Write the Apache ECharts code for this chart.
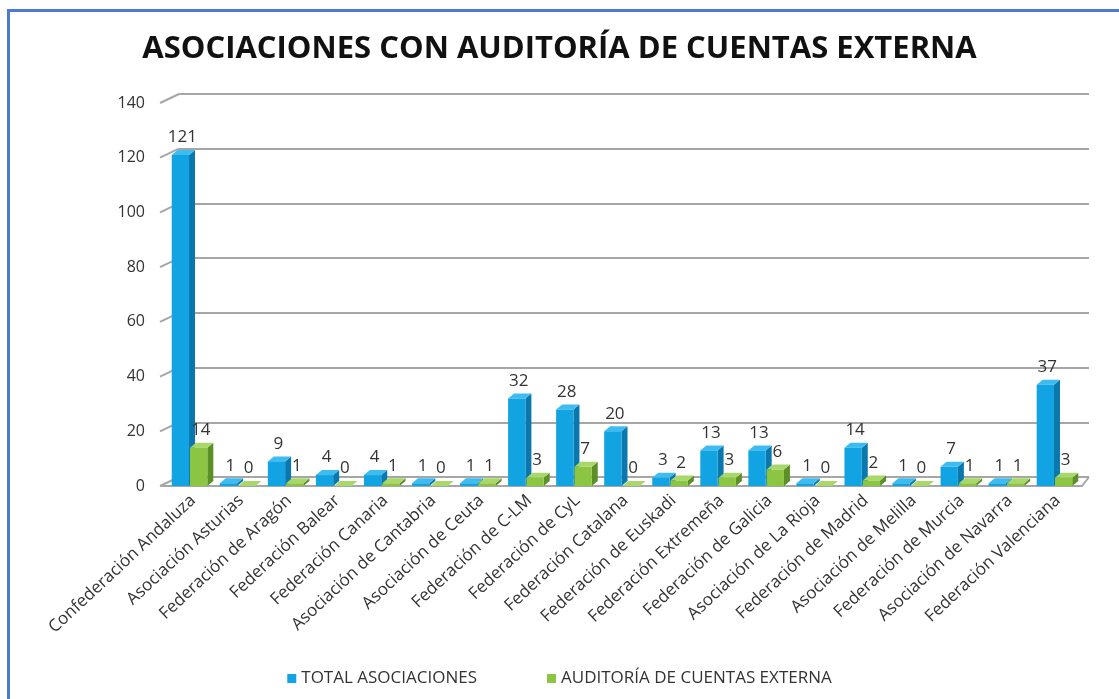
<!DOCTYPE html>
<html>
<head>
<meta charset="utf-8">
<script src="https://cdn.jsdelivr.net/npm/echarts@6/dist/echarts.min.js"></script>
<style>
  html,body{margin:0;padding:0;background:#fff;}
  #frame{position:absolute;left:7px;top:9px;width:1200px;height:800px;border-left:3px solid #4a7bd0;border-top:3px solid #4a7bd0;}
  #main{position:absolute;left:0;top:0;width:1119px;height:699px;}
</style>
</head>
<body>
<div id="frame"></div>
<div id="main"></div>
<script>
const categories = [
  'Confederación Andaluza','Asociación Asturias','Federación de Aragón','Federación Balear',
  'Federación Canaria','Asociación de Cantabria','Asociación de Ceuta','Federación de C-LM',
  'Federación de CyL','Federación Catalana','Federación de Euskadi','Federación Extremeña',
  'Federación de Galicia','Asociación de La Rioja','Federación de Madrid','Asociación de Melilla',
  'Federación de Murcia','Asociación de Navarra','Federación Valenciana'
];
const totalAsociaciones = [121,1,9,4,4,1,1,32,28,20,3,13,13,1,14,1,7,1,37];
const auditoriaExterna = [14,0,1,0,1,0,1,3,7,0,2,3,6,0,2,0,1,1,3];
const yTicks = [0,20,40,60,80,100,120,140];
const seriesNames = ['TOTAL ASOCIACIONES','AUDITORÍA DE CUENTAS EXTERNA'];

const colors = [
  {front:'#12a3e2', side:'#0a78ad', top:'#3dbcf0'},
  {front:'#8bc541', side:'#5d8f27', top:'#a9d86a'}
];
const FONT = '"Open Sans", sans-serif';

// fake 3d bar: front face, right side, top
function make3dBar(slot){
  return function(params, api){
    const idx = api.value(0), val = api.value(1);
    const top = api.coord([idx, val]);
    const base = api.coord([idx, 0]);
    const band = api.size([1,0])[0];
    const w = band*0.36, d = 6, dy = 5;
    const cx = top[0];
    const x0 = slot === 0 ? cx - w - d/2 - 1 : cx - d/2;
    const x1 = x0 + w;
    const y0 = top[1], yb = base[1];
    const c = colors[slot];
    return {
      type:'group',
      children:[
        {type:'polygon', shape:{points:[[x1,y0],[x1+d,y0-dy],[x1+d,yb-dy],[x1,yb]]}, style:{fill:c.side}},
        {type:'polygon', shape:{points:[[x0,y0],[x0+d,y0-dy],[x1+d,y0-dy],[x1,y0]]}, style:{fill:c.top}},
        {type:'rect', shape:{x:x0, y:y0, width:w, height:Math.max(yb-y0,0)}, style:{fill:c.front}},
        {type:'text', x:x0 + w/2 + 2, y:y0 - dy - 4,
          style:{text:String(val), align:'center', verticalAlign:'bottom',
            font:'17px ' + FONT, fill:'#333'}}
      ]
    };
  };
}

const chart = echarts.init(document.getElementById('main'));
chart.setOption({
  animation:false,
  title:{
    text:'ASOCIACIONES CON AUDITORÍA DE CUENTAS EXTERNA',
    left:'center', top:29,
    textStyle:{fontFamily:FONT, fontSize:31, fontWeight:'bold', color:'#111'}
  },
  legend:{
    bottom:7, left:'center', icon:'rect', itemWidth:9, itemHeight:9, itemGap:70,
    textStyle:{fontFamily:FONT, fontSize:17, color:'#333'},
    data:seriesNames
  },
  grid:[
    {left:169, right:37, top:103, bottom:213},
    {left:179, right:30, top:94, bottom:222}
  ],
  xAxis:[
    {type:'category', gridIndex:0, data:categories,
      axisLine:{lineStyle:{color:'#a6a6a6', width:2}}, axisTick:{show:false},
      axisLabel:{rotate:43, interval:0, margin:12, color:'#333', fontSize:17, fontFamily:FONT}},
    {type:'value', gridIndex:1, show:false}
  ],
  yAxis:[
    {type:'value', gridIndex:0, min:0, max:140, interval:20,
      axisLine:{show:false}, axisTick:{show:false}, splitLine:{show:false},
      axisLabel:{color:'#333', fontSize:16, margin:24, fontFamily:FONT}},
    {type:'value', gridIndex:1, min:0, max:140, interval:20,
      axisLine:{show:false}, axisTick:{show:false}, axisLabel:{show:false},
      splitLine:{lineStyle:{color:'#a6a6a6', width:2}}}
  ],
  series:[
    {name:seriesNames[0], type:'custom', xAxisIndex:0, yAxisIndex:0,
      itemStyle:{color:colors[0].front}, renderItem:make3dBar(0),
      data:totalAsociaciones.map((v,i)=>[i,v]), encode:{x:0,y:1}, z:3},
    {name:seriesNames[1], type:'custom', xAxisIndex:0, yAxisIndex:0,
      itemStyle:{color:colors[1].front}, renderItem:make3dBar(1),
      data:auditoriaExterna.map((v,i)=>[i,v]), encode:{x:0,y:1}, z:3}
  ]
});

// slanted connectors from the front ticks to the back wall
const lines = yTicks.map(t => {
  const front = chart.convertToPixel({yAxisIndex:0}, t);
  const back = chart.convertToPixel({yAxisIndex:1}, t);
  return {type:'line', shape:{x1:160, y1:front, x2:179, y2:back},
    style:{stroke:'#a6a6a6', lineWidth:2}, z:1};
});
const f0 = chart.convertToPixel({yAxisIndex:0}, 0);
const b0 = chart.convertToPixel({yAxisIndex:1}, 0);
lines.push({type:'line', shape:{x1:160, y1:f0, x2:1082, y2:f0}, style:{stroke:'#a6a6a6', lineWidth:2}, z:1});
lines.push({type:'line', shape:{x1:1082, y1:f0, x2:1089, y2:b0}, style:{stroke:'#a6a6a6', lineWidth:2}, z:1});
chart.setOption({graphic:lines});
</script>
</body>
</html>
